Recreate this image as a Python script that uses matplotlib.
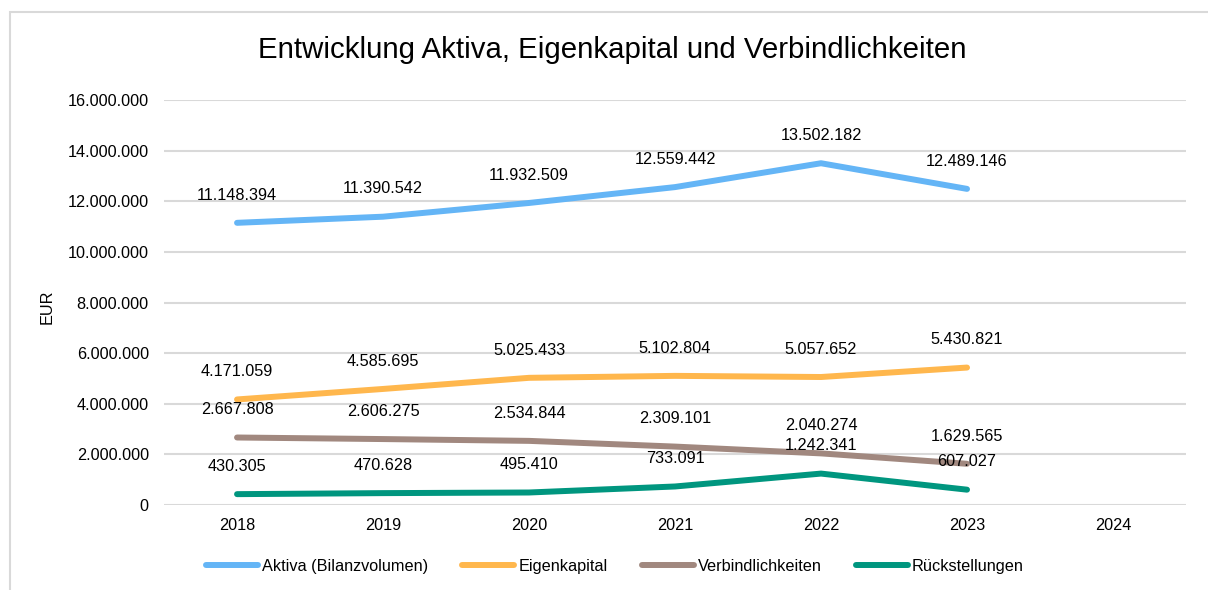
import numpy as np
import matplotlib.pyplot as plt
from matplotlib.patches import Rectangle

plt.rcParams['font.family'] = ['Liberation Sans', 'DejaVu Sans']

# data
years = ['2018', '2019', '2020', '2021', '2022', '2023', '2024']
aktiva = [11148394, 11390542, 11932509, 12559442, 13502182, 12489146, np.nan]
eigenkapital = [4171059, 4585695, 5025433, 5102804, 5057652, 5430821, np.nan]
verbindlichkeiten = [2667808, 2606275, 2534844, 2309101, 2040274, 1629565, np.nan]
rueckstellungen = [430305, 470628, 495410, 733091, 1242341, 607027, np.nan]

series = [
    ('Aktiva (Bilanzvolumen)', aktiva, '#64B5F6'),
    ('Eigenkapital', eigenkapital, '#FFB74D'),
    ('Verbindlichkeiten', verbindlichkeiten, '#A1887F'),
    ('Rückstellungen', rueckstellungen, '#00967F'),
]


def de_fmt(v):
    return f'{v:,.0f}'.replace(',', '.')


fs = 11.7

fig = plt.figure(figsize=(12.08, 5.9), dpi=100)
ax = fig.add_axes([0.1358, 0.144, 0.8460, 0.6865])

# outer chart border
fig.patches.append(Rectangle((10 / 1208, -0.05), 1.2, 1 - 12 / 590 + 0.05,
                             transform=fig.transFigure, fill=False,
                             edgecolor='#D9D9D9', linewidth=1.5))

x = np.arange(len(years))
for name, vals, color in series:
    ax.plot(x, vals, color=color, linewidth=4.3, solid_capstyle='round',
            solid_joinstyle='round', label=name, zorder=3)
    for xi, v in zip(x, vals):
        if np.isnan(v):
            continue
        ax.annotate(de_fmt(v), (xi, v), textcoords='offset points',
                    xytext=(0, 20), ha='center', va='center', fontsize=fs,
                    color='#000000', zorder=4)

ax.set_xlim(-0.5, len(years) - 0.5)
ax.set_ylim(0, 16000000)
ax.set_yticks(np.arange(0, 16000001, 2000000))
ax.set_yticklabels([de_fmt(v) for v in np.arange(0, 16000001, 2000000)])
ax.set_xticks(x)
ax.set_xticklabels(years)
ax.tick_params(axis='both', length=0, labelsize=fs, colors='#000000')
ax.tick_params(axis='x', pad=9)
ax.tick_params(axis='y', pad=11)
ax.grid(axis='y', color='#D9D9D9', linewidth=1.5)
ax.set_axisbelow(True)
for s in ax.spines.values():
    s.set_visible(False)

ax.set_ylabel('EUR', fontsize=fs)
ax.yaxis.set_label_coords(-0.107, 0.49)
fig.text(0.507, 0.915, 'Entwicklung Aktiva, Eigenkapital und Verbindlichkeiten',
         ha='center', va='center', fontsize=21.2)

ax.legend(loc='center', bbox_to_anchor=(0.441, -0.151), ncol=4,
          frameon=False, fontsize=fs, handlelength=3.2, handletextpad=0.25,
          columnspacing=2.1)

fig.savefig('out.png', dpi=100, facecolor='white')
